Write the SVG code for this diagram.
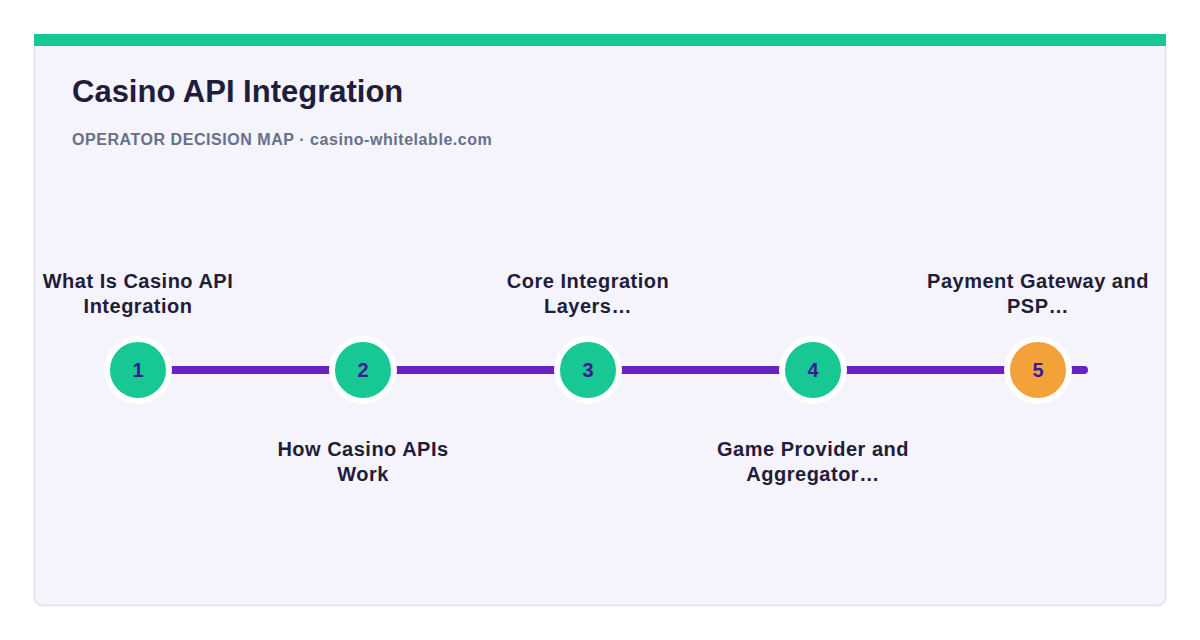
<svg xmlns="http://www.w3.org/2000/svg" width="1200" height="640" viewBox="0 0 1200 640">
<defs>
<style>
.lbl{font-family:"Liberation Sans",Arial,sans-serif;font-weight:bold;font-size:20px;letter-spacing:0.5px;fill:#1f1d3a;text-anchor:middle}
.num{font-family:"Liberation Sans",Arial,sans-serif;font-weight:bold;font-size:20px;fill:#3a1a9a;text-anchor:middle}
.dot{stroke:#ffffff;stroke-width:6}
</style>
</defs>
<rect width="1200" height="640" fill="#ffffff"/>
<rect x="34.5" y="34.5" width="1131" height="571" rx="8" fill="#f5f3fc" stroke="#e2e0e8" stroke-width="1.5"/>
<rect x="34" y="34" width="1132" height="12" fill="#17c794"/>
<text x="72" y="102" font-family="Liberation Sans,Arial,sans-serif" font-weight="bold" font-size="31" fill="#1f1d3a">Casino API Integration</text>
<text x="72" y="145" font-family="Liberation Sans,Arial,sans-serif" font-weight="bold" font-size="16" letter-spacing="0.55" fill="#66708a">OPERATOR DECISION MAP · casino-whitelable.com</text>
<g id="connectors">
<line x1="138" y1="370" x2="1084" y2="370" stroke="#6a22c4" stroke-width="8" stroke-linecap="round"/>
</g>
<g id="node1">
<circle class="dot" cx="138" cy="370" r="31" fill="#17c794"/>
<text class="num" x="138" y="377">1</text>
<text class="lbl" x="138" y="288">What Is Casino API</text>
<text class="lbl" x="138" y="313">Integration</text>
</g>
<g id="node2">
<circle class="dot" cx="363" cy="370" r="31" fill="#17c794"/>
<text class="num" x="363" y="377">2</text>
<text class="lbl" x="363" y="456">How Casino APIs</text>
<text class="lbl" x="363" y="481">Work</text>
</g>
<g id="node3">
<circle class="dot" cx="588" cy="370" r="31" fill="#17c794"/>
<text class="num" x="588" y="377">3</text>
<text class="lbl" x="588" y="288">Core Integration</text>
<text class="lbl" x="588" y="313">Layers…</text>
</g>
<g id="node4">
<circle class="dot" cx="813" cy="370" r="31" fill="#17c794"/>
<text class="num" x="813" y="377">4</text>
<text class="lbl" x="813" y="456">Game Provider and</text>
<text class="lbl" x="813" y="481">Aggregator…</text>
</g>
<g id="node5">
<circle class="dot" cx="1038" cy="370" r="31" fill="#f3a23a"/>
<text class="num" x="1038" y="377">5</text>
<text class="lbl" x="1038" y="288">Payment Gateway and</text>
<text class="lbl" x="1038" y="313">PSP…</text>
</g>
</svg>
